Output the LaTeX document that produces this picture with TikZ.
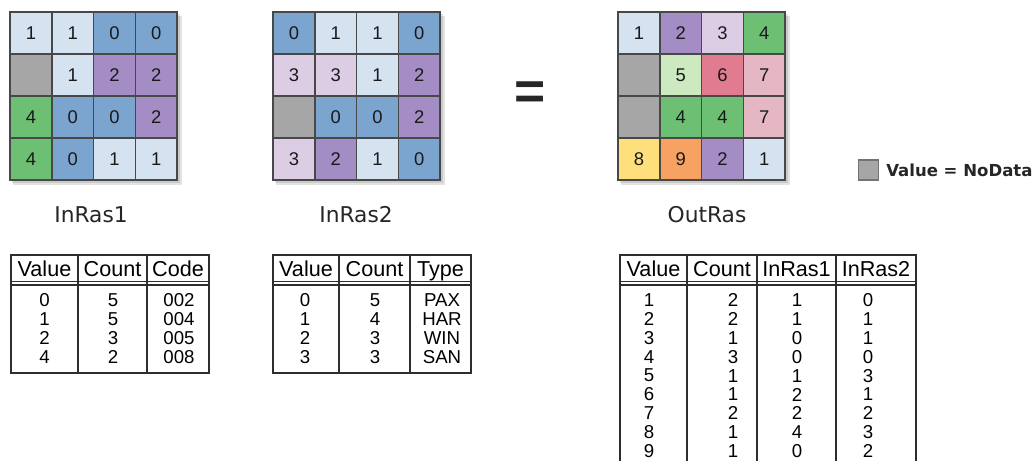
\documentclass[tikz,border=0pt]{standalone}
\usepackage{fontspec}
\setmainfont{Liberation Sans}
\newfontfamily\capfont{DejaVu Sans}
\newfontfamily\legfont{DejaVu Sans}
\definecolor{c0}{HTML}{7BA4CF}
\definecolor{c1}{HTML}{D5E2F0}
\definecolor{c2}{HTML}{A38DC4}
\definecolor{c3}{HTML}{DCCDE5}
\definecolor{c4}{HTML}{6DBF73}
\definecolor{c5}{HTML}{CDE9BF}
\definecolor{c6}{HTML}{E07B90}
\definecolor{c7}{HTML}{E5B6C3}
\definecolor{c8}{HTML}{FDE07C}
\definecolor{c9}{HTML}{F7A262}
\definecolor{cn}{HTML}{A6A6A6}
\definecolor{gridline}{HTML}{484848}
\definecolor{tabline}{HTML}{2E2E2E}
\tikzset{
  cell/.style={draw=gridline, line width=1.1pt, minimum width=31.3pt, minimum height=31.5pt,
    inner sep=0pt, font=\fontsize{13.8pt}{15pt}\selectfont, text=black!90},
  shadowbox/.style={fill=black, opacity=0.11},
  caption/.style={font=\capfont\fontsize{16.3pt}{18pt}\selectfont, text=black!85},
  thead/.style={font=\fontsize{16.2pt}{18pt}\selectfont, inner sep=0pt, text=black,
    text height=11.6pt, text depth=0pt},
  tcell/.style={font=\fontsize{14pt}{15pt}\selectfont, inner sep=0pt, text=black},
  tline/.style={draw=tabline, line width=0.9pt},
  touter/.style={draw=tabline, line width=1.3pt},
}
\begin{document}
\begin{tikzpicture}[x=0.75pt,y=-0.75pt]
\useasboundingbox[fill=white] (0,0) rectangle (1036,461);

% ---------- shadows ----------
\foreach \gx in {10,273,618}{
  \fill[shadowbox] (\gx+3,12+4) rectangle (\gx+168+4,180+5);
  \fill[shadowbox] (\gx+2,12+2) rectangle (\gx+168+2,180+3);
}

% ---------- InRas1 grid ----------
\foreach \r/\c/\v/\f in {
  1/1/1/c1, 1/2/1/c1, 1/3/0/c0, 1/4/0/c0,
  2/1/{}/cn, 2/2/1/c1, 2/3/2/c2, 2/4/2/c2,
  3/1/4/c4, 3/2/0/c0, 3/3/0/c0, 3/4/2/c2,
  4/1/4/c4, 4/2/0/c0, 4/3/1/c1, 4/4/1/c1}
  \node[cell, fill=\f] (ga-\r-\c) at ({10+41.8*(\c-0.5)},{12+42*(\r-0.5)}) {\v};

% ---------- InRas2 grid ----------
\foreach \r/\c/\v/\f in {
  1/1/0/c0, 1/2/1/c1, 1/3/1/c1, 1/4/0/c0,
  2/1/3/c3, 2/2/3/c3, 2/3/1/c1, 2/4/2/c2,
  3/1/{}/cn, 3/2/0/c0, 3/3/0/c0, 3/4/2/c2,
  4/1/3/c3, 4/2/2/c2, 4/3/1/c1, 4/4/0/c0}
  \node[cell, fill=\f] (gb-\r-\c) at ({273+41.8*(\c-0.5)},{12+42*(\r-0.5)}) {\v};

% ---------- OutRas grid ----------
\foreach \r/\c/\v/\f in {
  1/1/1/c1, 1/2/2/c2, 1/3/3/c3, 1/4/4/c4,
  2/1/{}/cn, 2/2/5/c5, 2/3/6/c6, 2/4/7/c7,
  3/1/{}/cn, 3/2/4/c4, 3/3/4/c4, 3/4/7/c7,
  4/1/8/c8, 4/2/9/c9, 4/3/2/c2, 4/4/1/c1}
  \node[cell, fill=\f] (gc-\r-\c) at ({618+41.8*(\c-0.5)},{12+42*(\r-0.5)}) {\v};

% ---------- equals ----------
\node[font=\bfseries\fontsize{40pt}{40pt}\selectfont, inner sep=0pt, text=black!85] (eq) at (530,96) {=};

% ---------- captions ----------
\node[caption] (cap1) at (91,215) {InRas1};
\node[caption] (cap2) at (356,215) {InRas2};
\node[caption] (cap3) at (707,215) {OutRas};

% ---------- legend ----------
\node[draw=black!55, fill=cn, line width=0.8pt, minimum size=15pt, inner sep=0pt] (legbox) at (868.5,170) {};
\node[anchor=west, font=\legfont\bfseries\fontsize{12.4pt}{13pt}\selectfont, inner sep=0pt, text=black!85] (legtxt) at (886,170) {Value = NoData};

% ---------- table 1 ----------
\draw[touter] (11,255) rectangle (209,373);
\draw[tline] (11,281.5) -- (209,281.5);
\draw[tline] (11,285) -- (209,285);
\draw[tline] (78,255) -- (78,373);
\draw[tline] (147,255) -- (147,373);
\node[thead] (t1h1) at (44.5,269) {Value};
\node[thead] (t1h2) at (112.5,269) {Count};
\node[thead] (t1h3) at (178,269) {Code};
\foreach \i/\a/\b/\c in {0/0/5/002, 1/1/5/004, 2/2/3/005, 3/4/2/008}{
  \node[tcell] (t1a\i) at (44.5,{300+18.9*\i}) {\a};
  \node[tcell] (t1b\i) at (113,{300+18.9*\i}) {\b};
  \node[tcell] (t1c\i) at (179,{300+18.9*\i}) {\c};
}

% ---------- table 2 ----------
\draw[touter] (273,255) rectangle (471,373);
\draw[tline] (273,281.5) -- (471,281.5);
\draw[tline] (273,285) -- (471,285);
\draw[tline] (339,255) -- (339,373);
\draw[tline] (410,255) -- (410,373);
\node[thead] (t2h1) at (306,269) {Value};
\node[thead] (t2h2) at (374.5,269) {Count};
\node[thead] (t2h3) at (440.5,269) {Type};
\foreach \i/\a/\b/\c in {0/0/5/PAX, 1/1/4/HAR, 2/2/3/WIN, 3/3/3/SAN}{
  \node[tcell] (t2a\i) at (305,{300+18.9*\i}) {\a};
  \node[tcell] (t2b\i) at (375,{300+18.9*\i}) {\b};
  \node[tcell] (t2c\i) at (442,{300+18.9*\i}) {\c};
}

% ---------- table 3 ----------
\draw[touter] (620,461) -- (620,255) -- (916,255) -- (916,461);
\draw[tline] (620,281.5) -- (916,281.5);
\draw[tline] (620,285) -- (916,285);
\draw[tline] (687,255) -- (687,461);
\draw[tline] (757,255) -- (757,461);
\draw[tline] (836,255) -- (836,461);
\node[thead] (t3h1) at (653.5,269) {Value};
\node[thead] (t3h2) at (722,269) {Count};
\node[thead] (t3h3) at (796.5,269) {InRas1};
\node[thead] (t3h4) at (876,269) {InRas2};
\foreach \i/\a/\b/\c/\d in {0/1/2/1/0, 1/2/2/1/1, 2/3/1/0/1, 3/4/3/0/0, 4/5/1/1/3,
  5/6/1/2/1, 6/7/2/2/2, 7/8/1/4/3, 8/9/1/0/2}{
  \node[tcell] (t3a\i) at (649,{300+18.9*\i}) {\a};
  \node[tcell] (t3b\i) at (733,{300+18.9*\i}) {\b};
  \node[tcell] (t3c\i) at (797,{300+18.9*\i}) {\c};
  \node[tcell] (t3d\i) at (868,{300+18.9*\i}) {\d};
}
\end{tikzpicture}
\end{document}
